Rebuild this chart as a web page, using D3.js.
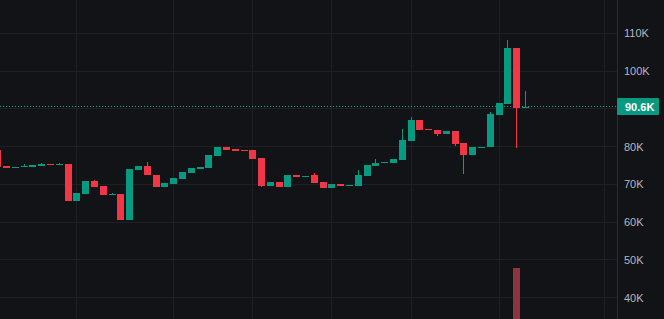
<html>
<head>
<script src="https://cdnjs.cloudflare.com/ajax/libs/d3/7.8.5/d3.min.js"></script>
<style>
    body { margin: 0; background: #121317; overflow: hidden; }
    svg { display: block; }
    .axisLabel { fill: #b4b8c1; font-family: "Liberation Sans", Arial, sans-serif; font-size: 11px; }
</style>
</head>
<body>
<script type='text/javascript'>
    // candle data (K USD), one entry per bar
    var opens  = [79.0, 74.8, 74.4, 74.5, 74.6, 74.9, 75.5, 75.0, 75.4, 65.5,
                  67.4, 70.8, 69.5, 67.1, 67.4, 60.5, 73.8, 74.8, 72.6, 69.3,
                  70.0, 71.4, 72.9, 74.0, 74.3, 77.5, 79.9, 79.3, 79.1, 79.1,
                  77.0, 69.5, 70.5, 69.3, 72.4, 72.0, 72.4, 70.5, 69.0, 70.0,
                  69.5, 69.5, 72.2, 74.8, 75.6, 75.6, 76.4, 81.4, 87.0, 84.6,
                  84.4, 83.3, 84.1, 81.0, 77.9, 79.6, 79.9, 88.3, 91.3, 106.1, 90.4];
    var highs  = [79.0, 74.8, 74.6, 75.3, 75.1, 75.6, 75.5, 75.6, 75.4, 67.6,
                  70.8, 71.1, 69.5, 67.6, 67.4, 74.0, 74.8, 75.8, 72.6, 70.3,
                  71.6, 73.2, 74.2, 74.6, 77.8, 79.9, 79.9, 79.3, 79.1, 79.1,
                  77.0, 70.5, 70.5, 72.4, 72.4, 72.3, 72.9, 70.5, 70.0, 70.0,
                  69.8, 73.7, 75.0, 76.7, 75.9, 76.7, 84.7, 87.8, 87.0, 84.6,
                  84.4, 84.0, 84.1, 81.0, 79.9, 79.9, 89.1, 91.5, 108.2, 106.1, 94.7];
    var lows   = [74.6, 74.4, 74.4, 74.5, 74.6, 74.9, 75.1, 75.0, 65.5, 65.5,
                  67.4, 69.3, 67.1, 67.1, 60.5, 60.5, 73.8, 72.4, 69.3, 69.3,
                  70.0, 71.4, 72.9, 74.0, 74.3, 77.5, 79.1, 78.8, 78.9, 76.7,
                  69.2, 69.5, 69.3, 69.3, 71.9, 72.0, 70.3, 69.0, 69.0, 69.5,
                  69.5, 69.5, 72.2, 74.8, 75.6, 75.6, 76.4, 81.4, 84.4, 84.3,
                  82.8, 83.3, 80.1, 72.7, 77.9, 79.6, 79.9, 88.3, 91.3, 79.6, 90.4];
    var closes = [74.6, 74.4, 74.6, 74.8, 75.1, 75.5, 75.1, 75.3, 65.5, 67.6,
                  70.8, 69.3, 67.1, 67.5, 60.5, 74.0, 74.8, 72.4, 69.3, 70.3,
                  71.6, 73.2, 74.2, 74.6, 77.8, 79.9, 79.1, 78.8, 78.9, 76.7,
                  69.5, 70.5, 69.3, 72.4, 71.9, 72.3, 70.3, 69.0, 70.0, 69.5,
                  69.8, 72.4, 75.0, 75.6, 75.9, 76.7, 81.7, 87.0, 84.4, 84.3,
                  83.3, 84.0, 80.6, 77.8, 79.9, 79.9, 88.6, 91.5, 106.1, 90.2, 90.6];
    // only one volume bar shows above the bottom edge
    var volumes = [0, 0, 0, 0, 0, 0, 0, 0, 0, 0,
                   0, 0, 0, 0, 0, 0, 0, 0, 0, 0,
                   0, 0, 0, 0, 0, 0, 0, 0, 0, 0,
                   0, 0, 0, 0, 0, 0, 0, 0, 0, 0,
                   0, 0, 0, 0, 0, 0, 0, 0, 0, 0,
                   0, 0, 0, 0, 0, 0, 0, 0, 0, 1, 0];
    var priceTicks = [40, 50, 60, 70, 80, 90, 100, 110];
    var timeGrid = [9, 20, 29, 38, 47, 57, 69];
    var lastPrice = 90.6;

    var width = 664, height = 319;
    var axisX = 617;
    var up = "#089981", down = "#f23645";

    var svg = d3.select("body").append("svg")
        .attr("width", width)
        .attr("height", height);

    svg.append("rect").attr("width", width).attr("height", height).attr("fill", "#121317");

    var x = d3.scaleLinear().domain([0, 60]).range([-2.3, 525.5]);
    var y = d3.scaleLinear().domain([40, 110]).range([297.6, 33.3]);
    var yVol = d3.scaleLinear().domain([0, 1]).range([height, 268]);

    var grid = svg.append("g").attr("class", "grid").attr("shape-rendering", "crispEdges");
    grid.selectAll("line.h").data(priceTicks).enter().append("line")
        .attr("class", "h")
        .attr("x1", 0).attr("x2", axisX)
        .attr("y1", d => Math.floor(y(d)) + 0.5)
        .attr("y2", d => Math.floor(y(d)) + 0.5)
        .attr("stroke", "#1e2026");
    grid.selectAll("line.v").data(timeGrid).enter().append("line")
        .attr("class", "v")
        .attr("x1", d => Math.floor(x(d)) + 0.5)
        .attr("x2", d => Math.floor(x(d)) + 0.5)
        .attr("y1", 0).attr("y2", height)
        .attr("stroke", "#1e2026");

    var idx = d3.range(opens.length);

    // volume
    svg.append("g").selectAll("rect").data(idx.filter(i => volumes[i] > 0)).enter().append("rect")
        .attr("x", i => Math.floor(x(i)) - 3)
        .attr("width", 7)
        .attr("y", i => yVol(volumes[i]))
        .attr("height", i => height - yVol(volumes[i]))
        .attr("fill", "#8a3540");

    // last price line
    svg.append("line")
        .attr("shape-rendering", "crispEdges")
        .attr("x1", 0).attr("x2", axisX)
        .attr("y1", Math.floor(y(lastPrice)) + 0.5)
        .attr("y2", Math.floor(y(lastPrice)) + 0.5)
        .attr("stroke", "#0fa88a")
        .attr("stroke-dasharray", "1,2");

    var candles = svg.append("g").attr("shape-rendering", "crispEdges");
    idx.forEach(function (i) {
        var o = opens[i], c = closes[i];
        var col = c >= o ? up : down;
        var cx = Math.floor(x(i));
        candles.append("rect")
            .attr("x", cx)
            .attr("width", 1)
            .attr("y", y(highs[i]))
            .attr("height", Math.max(1, y(lows[i]) - y(highs[i])))
            .attr("fill", col);
        var top = y(Math.max(o, c)), bot = y(Math.min(o, c));
        candles.append("rect")
            .attr("x", cx - 3)
            .attr("width", 7)
            .attr("y", top)
            .attr("height", Math.max(1, bot - top))
            .attr("fill", col);
    });

    // right price axis
    svg.append("line")
        .attr("x1", axisX + 0.5).attr("x2", axisX + 0.5)
        .attr("y1", 0).attr("y2", height)
        .attr("stroke", "#2a2d34");

    svg.append("g").selectAll("text").data(priceTicks.filter(d => d != 90)).enter().append("text")
        .attr("class", "axisLabel")
        .attr("x", 624)
        .attr("y", d => y(d))
        .attr("dy", "0.36em")
        .text(d => d + "K");

    var ly = y(lastPrice);
    svg.append("rect")
        .attr("x", axisX).attr("y", Math.floor(ly) - 8)
        .attr("width", 42).attr("height", 17)
        .attr("rx", 1)
        .attr("fill", up);
    svg.append("text")
        .attr("class", "axisLabel")
        .attr("x", 625)
        .attr("y", ly)
        .attr("dy", "0.36em")
        .style("fill", "#ffffff")
        .style("font-weight", "bold")
        .text(lastPrice.toFixed(1) + "K");
</script>
</body>
</html>
